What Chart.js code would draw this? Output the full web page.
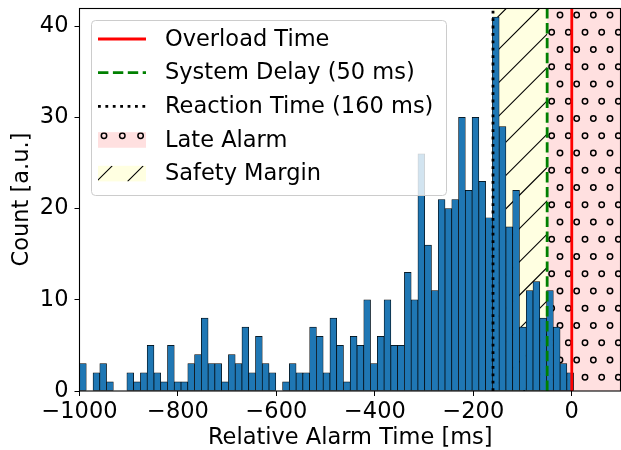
<!DOCTYPE html>
<html>
<head>
<meta charset="utf-8">
<script src="https://cdn.jsdelivr.net/npm/chart.js@4/dist/chart.umd.min.js"></script>
<style>
    html, body { margin: 0; padding: 0; background: #fff; }
    #wrap { width: 621px; height: 450px; }
</style>
</head>
<body>
<div id="wrap"><canvas id="alarmChart" width="621" height="450"></canvas></div>
<script>
// histogram of relative alarm times, bins of ~13.75 ms starting at -1000 ms
const binStart = -1000
const binWidth = 13.75
const counts = [
    3, 0, 2, 3, 1, 0, 0, 2, 1, 2,
    5, 2, 1, 5, 1, 1, 3, 4, 8, 3,
    3, 1, 4, 3, 7, 2, 6, 3, 2, 0,
    1, 3, 2, 2, 7, 6, 2, 8, 5, 1,
    6, 5, 10, 3, 6, 10, 5, 5, 13, 10,
    26, 16, 11, 21, 20, 21, 30, 22, 30, 23,
    19, 41, 29, 18, 22, 7, 11, 12, 8, 11,
    7, 3, 2
]

const overloadTime = 0
const systemDelay = 50
const reactionTime = 160

const xMin = -1000
const xMax = 100
const yMax = 42
const xTicks = [-1000, -800, -600, -400, -200, 0]
const yTicks = [0, 10, 20, 30, 40]

const legendLabels = [
    'Overload Time',
    'System Delay (50 ms)',
    'Reaction Time (160 ms)',
    'Late Alarm',
    'Safety Margin',
]

const FONT = '"DejaVu Sans", sans-serif'
const FS = 22.5
Chart.defaults.font.family = FONT
Chart.defaults.color = '#000'

const pink = 'rgb(255,224,224)'
const yellow = 'rgb(255,255,225)'

function minus(v) {
    return v < 0 ? '\u2212' + Math.abs(v) : String(v)
}

// '/' hatch: lines x + y = c
function hatchSlash(ctx, x0, y0, x1, y1, c0, step) {
    ctx.save()
    ctx.beginPath()
    ctx.rect(x0, y0, x1 - x0, y1 - y0)
    ctx.clip()
    ctx.strokeStyle = '#000'
    ctx.lineWidth = 1.1
    ctx.beginPath()
    let c = c0 + Math.floor((x0 + y0 - c0) / step) * step
    for (; c <= x1 + y1 + step; c += step) {
        ctx.moveTo(c - y1, y1)
        ctx.lineTo(c - y0, y0)
    }
    ctx.stroke()
    ctx.restore()
}

// 'o' hatch: staggered small circles
function hatchCircles(ctx, x0, y0, x1, y1, ox, oy, dx, dy, r) {
    ctx.save()
    ctx.beginPath()
    ctx.rect(x0, y0, x1 - x0, y1 - y0)
    ctx.clip()
    ctx.strokeStyle = '#000'
    ctx.lineWidth = 1.5
    const k0 = Math.floor((y0 - oy) / dy) - 1
    const k1 = Math.ceil((y1 - oy) / dy) + 1
    for (let k = k0; k <= k1; k++) {
        const cy = oy + k * dy
        const sx = ox - (Math.abs(k) % 2) * dx / 2
        let cx = sx + Math.floor((x0 - sx) / dx) * dx - dx
        for (; cx <= x1 + dx; cx += dx) {
            ctx.beginPath()
            ctx.arc(cx, cy, r, 0, Math.PI * 2)
            ctx.stroke()
        }
    }
    ctx.restore()
}

function vline(ctx, x, top, bottom, color, dash) {
    ctx.save()
    ctx.strokeStyle = color
    ctx.lineWidth = 2.8
    ctx.setLineDash(dash)
    ctx.beginPath()
    ctx.moveTo(x, bottom)
    ctx.lineTo(x, top)
    ctx.stroke()
    ctx.restore()
}

const regionsPlugin = {
    id: 'regions',
    beforeDatasetsDraw(chart) {
        const {ctx, chartArea: a, scales: {x}} = chart
        const xs = x.getPixelForValue(-reactionTime)
        const xd = x.getPixelForValue(-systemDelay)
        const xe = x.getPixelForValue(xMax)
        ctx.save()
        ctx.fillStyle = yellow
        ctx.fillRect(xs, a.top, xd - xs, a.bottom - a.top)
        ctx.fillStyle = pink
        ctx.fillRect(xd, a.top, xe - xd, a.bottom - a.top)
        ctx.restore()
        hatchSlash(ctx, xs, a.top, xd, a.bottom, 548, 33.33)
        hatchCircles(ctx, xd, a.top, xe, a.bottom, 560, 15, 16.67, 17.25, 2.7)
    },
    afterDatasetsDraw(chart) {
        const {ctx, chartArea: a, scales: {x}} = chart
        vline(ctx, x.getPixelForValue(-reactionTime), a.top, a.bottom, '#000', [2.8, 4.6])
        vline(ctx, x.getPixelForValue(-systemDelay), a.top, a.bottom, '#008000', [10.4, 4.5])
        vline(ctx, x.getPixelForValue(overloadTime), a.top, a.bottom, '#ff0000', [])
    },
    afterDraw(chart) {
        const {ctx, chartArea: a} = chart
        // axes frame
        ctx.save()
        ctx.strokeStyle = '#000'
        ctx.lineWidth = 1.1
        ctx.strokeRect(a.left, a.top + 0.5, a.right - a.left - 0.5, a.bottom - a.top - 0.5)
        ctx.restore()
        drawLegend(ctx)
    }
}

function drawLegend(ctx) {
    const bx = 91, by = 20, bw = 355, bh = 175
    ctx.save()
    ctx.beginPath()
    ctx.roundRect(bx + 0.5, by + 0.5, bw, bh, 4)
    ctx.fillStyle = 'rgba(255,255,255,0.8)'
    ctx.fill()
    ctx.strokeStyle = '#cccccc'
    ctx.lineWidth = 1
    ctx.stroke()

    const hx0 = 98, hx1 = 146
    const rows = legendLabels.map((_, i) => 39 + i * 33.65)

    // line handles
    const lineStyles = [
        ['#ff0000', []],
        ['#008000', [10.4, 4.5]],
        ['#000', [2.8, 4.6]],
    ]
    lineStyles.forEach(([color, dash], i) => {
        ctx.save()
        ctx.strokeStyle = color
        ctx.lineWidth = 2.8
        ctx.setLineDash(dash)
        ctx.beginPath()
        ctx.moveTo(hx0, rows[i])
        ctx.lineTo(hx1, rows[i])
        ctx.stroke()
        ctx.restore()
    })

    // patch handles
    const ph = 15.6
    let py = rows[3] - ph / 2
    ctx.fillStyle = pink
    ctx.fillRect(hx0, py, hx1 - hx0, ph)
    hatchCircles(ctx, hx0, py, hx1, py + ph, 104, 135.7, 18.3, 200, 2.7)
    py = rows[4] - ph / 2
    ctx.fillStyle = yellow
    ctx.fillRect(hx0, py, hx1 - hx0, ph)
    hatchSlash(ctx, hx0, py, hx1, py + ph, 278, 31)

    ctx.fillStyle = '#000'
    ctx.font = FS + 'px ' + FONT
    ctx.textBaseline = 'middle'
    ctx.textAlign = 'left'
    legendLabels.forEach((t, i) => ctx.fillText(t, 165, rows[i] + 1))
    ctx.restore()
}

new Chart(document.getElementById('alarmChart'), {
    type: 'bar',
    data: {
        datasets: [{
            label: 'alarms',
            data: counts.map((c, i) => ({x: binStart + (i + 0.5) * binWidth, y: c})),
            backgroundColor: '#1f77b4',
            borderColor: '#000',
            borderWidth: 0.7,
            borderSkipped: false,
            barPercentage: 1,
            categoryPercentage: 1,
        }]
    },
    options: {
        responsive: false,
        devicePixelRatio: 1,
        animation: false,
        events: [],
        layout: {padding: {top: 8, right: 0, left: 0, bottom: 0}},
        plugins: {
            legend: {display: false},
            tooltip: {enabled: false},
        },
        scales: {
            x: {
                type: 'linear',
                min: xMin,
                max: xMax,
                offset: false,
                afterBuildTicks: s => { s.ticks = xTicks.map(v => ({value: v})) },
                ticks: {font: {size: FS}, color: '#000', padding: 3, maxRotation: 0, callback: v => minus(v)},
                grid: {offset: false, drawOnChartArea: false, tickLength: 5, tickColor: '#000', tickWidth: 1},
                border: {display: false},
                title: {display: true, text: 'Relative Alarm Time [ms]', font: {size: FS}, color: '#000', padding: {top: 0, bottom: -1.5}},
                afterFit: s => {
                    s.height = 59
                    s.paddingLeft = 0
                    s.paddingRight = 0
                },
            },
            y: {
                min: 0,
                max: yMax,
                afterBuildTicks: s => { s.ticks = yTicks.map(v => ({value: v})) },
                ticks: {font: {size: FS}, color: '#000', padding: 6},
                grid: {drawOnChartArea: false, tickLength: 5, tickColor: '#000', tickWidth: 1},
                border: {display: false},
                title: {display: true, text: 'Count [a.u.]', font: {size: FS}, color: '#000', padding: {top: 9, bottom: 0}},
                afterFit: s => {
                    s.width = 79.5
                    s.paddingTop = 0
                    s.paddingBottom = 0
                },
            }
        }
    },
    plugins: [regionsPlugin]
})
</script>
</body>
</html>
